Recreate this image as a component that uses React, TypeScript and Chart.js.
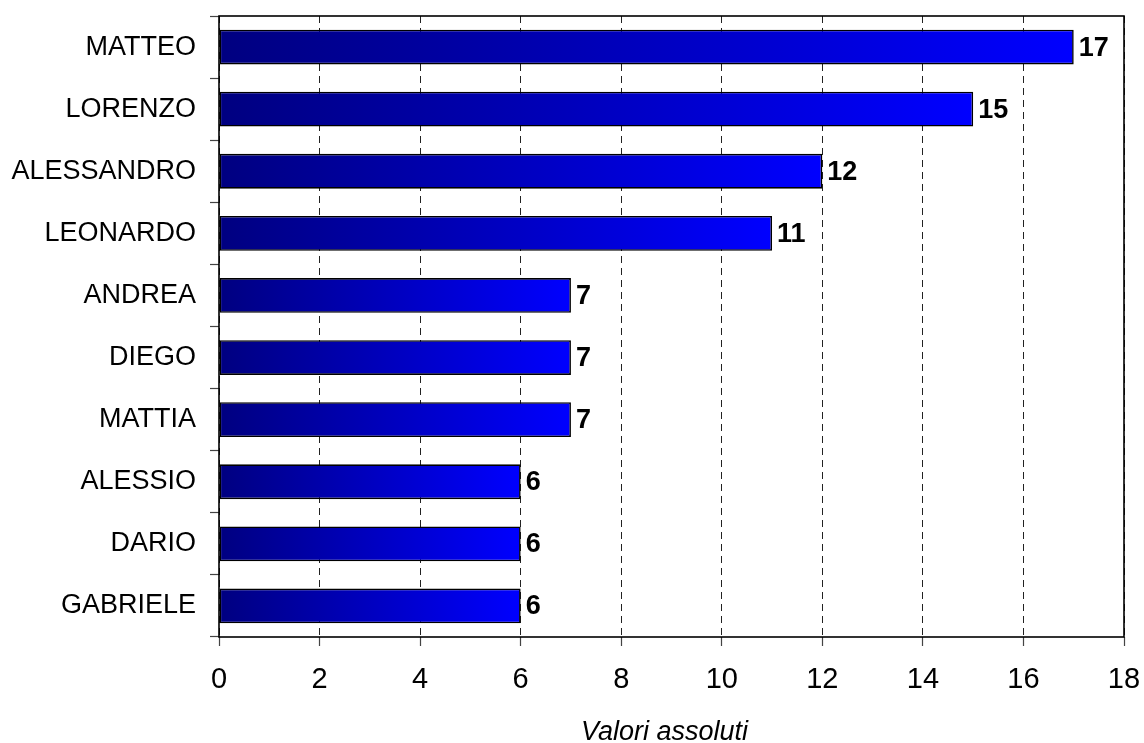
import React, { useEffect, useRef } from "react";
import { Chart, registerables } from "chart.js";

Chart.register(...registerables);

const categories = ["MATTEO", "LORENZO", "ALESSANDRO", "LEONARDO", "ANDREA", "DIEGO", "MATTIA", "ALESSIO", "DARIO", "GABRIELE"];
const values = [17, 15, 12, 11, 7, 7, 7, 6, 6, 6];
const xTicksMin = 0;
const xTicksMax = 18;
const xTickStep = 2;
const xTitle = "Valori assoluti";

const FONT = "'Liberation Sans', Arial, Helvetica, sans-serif";

const framePlugin = {
  id: "frame",
  afterDatasetsDraw(chart: any) {
    const { ctx, chartArea } = chart;
    ctx.save();
    ctx.strokeStyle = "#000";
    ctx.lineWidth = 1.6;
    ctx.strokeRect(chartArea.left, chartArea.top, chartArea.right - chartArea.left, chartArea.bottom - chartArea.top);
    ctx.restore();
  },
};

const valueLabelPlugin = {
  id: "valueLabels",
  afterDatasetsDraw(chart: any) {
    const { ctx } = chart;
    const meta = chart.getDatasetMeta(0);
    ctx.save();
    ctx.font = `bold 27px ${FONT}`;
    ctx.fillStyle = "#000";
    ctx.textAlign = "left";
    ctx.textBaseline = "middle";
    meta.data.forEach((bar: any, i: number) => {
      ctx.fillText(String(values[i]), bar.x + 5, bar.y + 1);
    });
    ctx.restore();
  },
};

const xTitlePlugin = {
  id: "xTitle",
  afterDraw(chart: any) {
    const { ctx, chartArea } = chart;
    ctx.save();
    ctx.font = `italic 27px ${FONT}`;
    ctx.fillStyle = "#000";
    ctx.textAlign = "center";
    ctx.textBaseline = "alphabetic";
    ctx.fillText(xTitle, (chartArea.left + chartArea.right) / 2 - 7, 740);
    ctx.restore();
  },
};

export default function App() {
  const ref = useRef<HTMLCanvasElement>(null);
  useEffect(() => {
    if (!ref.current) return;
    const chart = new Chart(ref.current, {
      type: "bar",
      data: {
        labels: categories,
        datasets: [
          {
            data: values,
            backgroundColor: (c: any) => {
              const ch = c.chart;
              const area = ch.chartArea;
              const xs = ch.scales && ch.scales.x;
              if (!area || !xs || c.raw == null) return "#0000ff";
              const x0 = xs.getPixelForValue(0);
              const x1 = xs.getPixelForValue(c.raw);
              const g = ch.ctx.createLinearGradient(x0, 0, x1, 0);
              g.addColorStop(0, "#000080");
              g.addColorStop(1, "#0000ff");
              return g;
            },
            borderColor: "#000",
            borderWidth: 1.6,
            borderSkipped: false,
            categoryPercentage: 1,
            barPercentage: 0.56,
          },
        ],
      },
      options: {
        indexAxis: "y",
        animation: false,
        responsive: false,
        devicePixelRatio: 1,
        layout: { padding: { left: 0, right: 20, top: 16, bottom: 0 } },
        plugins: { legend: { display: false }, tooltip: { enabled: false } },
        scales: {
          y: {
            type: "category",
            offset: true,
            border: { display: false },
            grid: {
              offset: true,
              drawOnChartArea: false,
              drawTicks: true,
              tickLength: 9,
              tickColor: "#444",
              tickWidth: 1.2,
            },
            ticks: {
              color: "#000",
              font: { family: FONT, size: 27 },
              padding: 14,
            },
            afterFit: (s: any) => {
              s.width = 219;
              s.paddingTop = 0;
              s.paddingBottom = 0;
            },
          },
          x: {
            type: "linear",
            min: xTicksMin,
            max: xTicksMax,
            border: { display: false, dash: [7, 5] },
            grid: {
              color: "#222",
              lineWidth: 1,
              drawTicks: true,
              tickLength: 9,
              tickColor: "#444",
              tickWidth: 1.2,
              tickBorderDash: [],
            },
            ticks: {
              stepSize: xTickStep,
              color: "#000",
              font: { family: FONT, size: 29 },
              padding: 17,
            },
            title: { display: false },
            afterFit: (s: any) => {
              s.height = 106;
              s.paddingLeft = 0;
              s.paddingRight = 0;
            },
          },
        },
      },
      plugins: [framePlugin, valueLabelPlugin, xTitlePlugin],
    });
    return () => chart.destroy();
  }, []);
  return (
    <div style={{ position: "absolute", left: 0, top: 0, width: 1144, height: 743, background: "#fff" }}>
      <canvas ref={ref} width={1144} height={743} />
    </div>
  );
}
